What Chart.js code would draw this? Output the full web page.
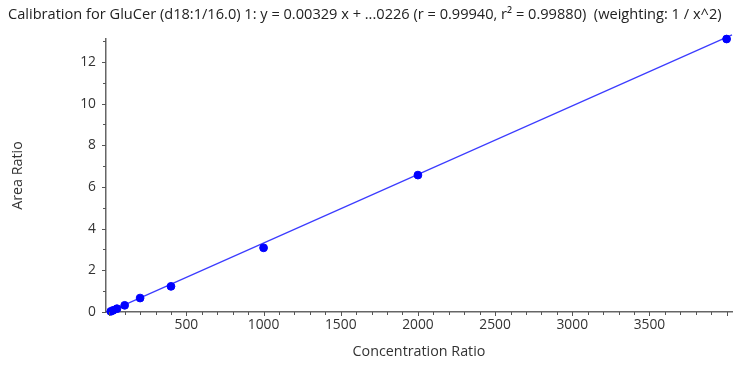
<!DOCTYPE html>
<html>
<head>
<meta charset="utf-8">
<script src="https://cdn.jsdelivr.net/npm/chart.js@4"></script>
<style>
  html, body { margin: 0; padding: 0; background: #fff; }
</style>
</head>
<body>
<canvas id="calChart" width="750" height="371"></canvas>
<script>
// calibration standards
const concRatio = [10, 25, 50, 100, 200, 400, 1000, 2000, 4000];
const areaRatio = [0.03, 0.08, 0.16, 0.32, 0.67, 1.23, 3.08, 6.57, 13.1];

// regression line end points
const fitX = [0, 4035];
const fitY = [0.02, 13.3];

const xTicks = [500, 1000, 1500, 2000, 2500, 3000, 3500];
const yTicks = [0, 2, 4, 6, 8, 10, 12];

const FONT = "'Open Sans', 'Noto Sans', sans-serif";

// small tick marks like the original (minor every 100 / 1)
const tickMarks = {
  id: 'tickMarks',
  afterDraw(chart) {
    const ctx = chart.ctx;
    const xs = chart.scales.x, ys = chart.scales.y;
    const a = chart.chartArea;
    ctx.save();
    ctx.strokeStyle = '#555';
    ctx.lineWidth = 1;
    ctx.beginPath();
    for (let v = 0; v <= 4000; v += 100) {
      const px = Math.round(xs.getPixelForValue(v)) + 0.5;
      const len = v % 500 === 0 ? 4 : 3;
      ctx.moveTo(px, a.bottom);
      ctx.lineTo(px, a.bottom + len);
    }
    for (let v = 0; v <= 13; v += 1) {
      const py = Math.round(ys.getPixelForValue(v)) + 0.5;
      const len = v % 2 === 0 ? 4 : 3;
      ctx.moveTo(a.left, py);
      ctx.lineTo(a.left - len, py);
    }
    ctx.stroke();
    ctx.restore();
  }
};

const data = {
  datasets: [{
    type: 'line',
    label: 'fit',
    data: fitX.map((x, i) => ({x: x, y: fitY[i]})),
    borderColor: '#3c3cff',
    borderWidth: 1.2,
    pointRadius: 0,
    fill: false,
    clip: false,
    order: 2
  }, {
    type: 'scatter',
    label: 'standards',
    data: concRatio.map((x, i) => ({x: x, y: areaRatio[i]})),
    backgroundColor: '#0000ff',
    borderColor: '#0000ff',
    pointRadius: 3.9,
    clip: false,
    order: 1
  }]
};

const config = {
  type: 'scatter',
  data: data,
  options: {
    responsive: false,
    animation: false,
    layout: { padding: { left: 8, right: 18, top: 0, bottom: 0 } },
    plugins: {
      legend: { display: false },
      tooltip: { enabled: false },
      title: {
        display: true,
        align: 'start',
        text: 'Calibration for GluCer (d18:1/16.0) 1: y = 0.00329 x + ...0226 (r = 0.99940, r\u00B2 = 0.99880)  (weighting: 1 / x^2)',
        color: '#222',
        font: { family: FONT, size: 14.6, weight: 'normal', lineHeight: 1.2 },
        padding: { top: 6.5, bottom: 15 }
      }
    },
    scales: {
      x: {
        type: 'linear',
        min: -21,
        max: 4035,
        afterBuildTicks: s => { s.ticks = xTicks.map(v => ({value: v})); },
        afterFit: s => { s.height = 59; },
        grid: { display: true, drawOnChartArea: false, drawTicks: false },
        border: { display: true, color: '#666', width: 1.5 },
        ticks: {
          color: '#333', padding: 5, maxRotation: 0, autoSkip: false,
          callback: v => String(v),
          font: { family: FONT, size: 13.8 }
        },
        title: {
          display: true, text: 'Concentration Ratio', color: '#333',
          font: { family: FONT, size: 14.3, lineHeight: 1.2 },
          padding: { top: 0, bottom: 10.5 }
        }
      },
      y: {
        type: 'linear',
        min: 0,
        max: 13.1,
        afterBuildTicks: s => { s.ticks = yTicks.map(v => ({value: v})); },
        afterFit: s => { s.width = 98; },
        grid: { display: true, drawOnChartArea: false, drawTicks: false },
        border: { display: true, color: '#666', width: 1.5 },
        ticks: {
          color: '#333', padding: 10, autoSkip: false,
          callback: v => String(v),
          font: { family: FONT, size: 13.8 }
        },
        title: {
          display: true, text: 'Area Ratio', color: '#333',
          font: { family: FONT, size: 14.3, lineHeight: 1.2 },
          padding: { top: 1.5, bottom: 0 }
        }
      }
    }
  },
  plugins: [tickMarks]
};

const calChart = new Chart(document.getElementById('calChart'), config);
</script>
</body>
</html>
